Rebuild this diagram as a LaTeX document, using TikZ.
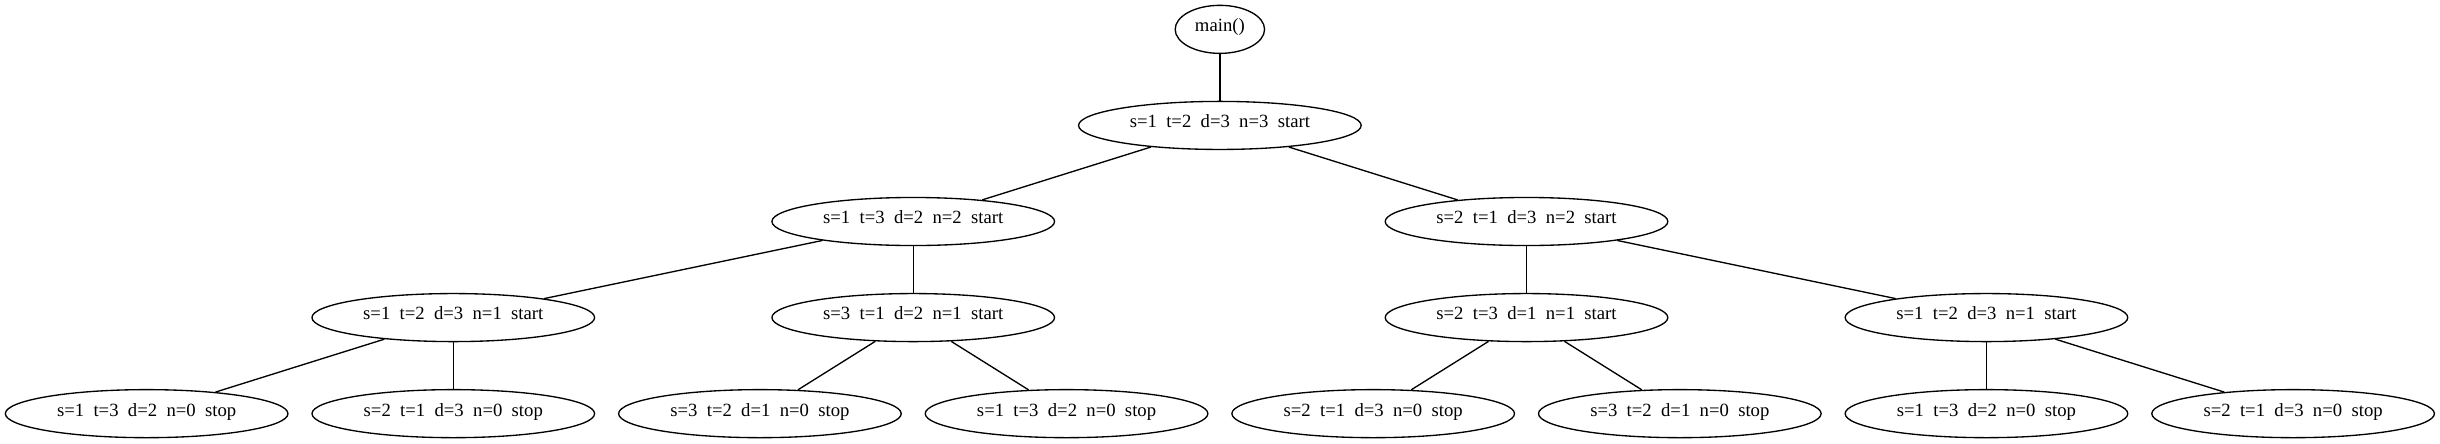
\documentclass[tikz,border=0pt]{standalone}
\usepackage{fontspec}
\setmainfont{Liberation Serif}
\usetikzlibrary{shapes.geometric}

\begin{document}
\begin{tikzpicture}[x=1bp,y=1bp,
    call/.style={draw,ellipse,line width=1bp,inner sep=0pt,minimum width=211.8bp,minimum height=36bp,
        text height=7bp,text depth=3.4bp,font=\fontsize{14bp}{16bp}\selectfont},
    link/.style={line width=1bp}]
\useasboundingbox (0,0) rectangle (1828.6,332);
% === rank heights and leaf spacing ===
\pgfmathsetmacro{\dx}{229.8}
\pgfmathsetmacro{\xzero}{109.9}
% --- root ---
\node[call,minimum width=67bp] (main) at (914.2,310) {main()};
% --- n=3 ---
\node[call] (h3) at (914.2,238) {s=1\ \ t=2\ \ d=3\ \ n=3\ \ start};
% --- n=2 ---
\node[call] (h2a) at (684.4,166) {s=1\ \ t=3\ \ d=2\ \ n=2\ \ start};
\node[call] (h2b) at (1144.0,166) {s=2\ \ t=1\ \ d=3\ \ n=2\ \ start};
% --- n=1 ---
\node[call] (h1a) at ({\xzero+\dx},94) {s=1\ \ t=2\ \ d=3\ \ n=1\ \ start};
\node[call] (h1b) at (684.4,94) {s=3\ \ t=1\ \ d=2\ \ n=1\ \ start};
\node[call] (h1c) at (1144.0,94) {s=2\ \ t=3\ \ d=1\ \ n=1\ \ start};
\node[call] (h1d) at ({\xzero+6*\dx},94) {s=1\ \ t=2\ \ d=3\ \ n=1\ \ start};
% --- n=0 ---
\node[call] (h0a) at ({\xzero},22) {s=1\ \ t=3\ \ d=2\ \ n=0\ \ stop};
\node[call] (h0b) at ({\xzero+\dx},22) {s=2\ \ t=1\ \ d=3\ \ n=0\ \ stop};
\node[call] (h0c) at ({\xzero+2*\dx},22) {s=3\ \ t=2\ \ d=1\ \ n=0\ \ stop};
\node[call] (h0d) at ({\xzero+3*\dx},22) {s=1\ \ t=3\ \ d=2\ \ n=0\ \ stop};
\node[call] (h0e) at ({\xzero+4*\dx},22) {s=2\ \ t=1\ \ d=3\ \ n=0\ \ stop};
\node[call] (h0f) at ({\xzero+5*\dx},22) {s=3\ \ t=2\ \ d=1\ \ n=0\ \ stop};
\node[call] (h0g) at ({\xzero+6*\dx},22) {s=1\ \ t=3\ \ d=2\ \ n=0\ \ stop};
\node[call] (h0h) at ({\xzero+7*\dx},22) {s=2\ \ t=1\ \ d=3\ \ n=0\ \ stop};
% === calls ===
\draw[link] (main) -- (h3);
\draw[link] (h3) -- (h2a);
\draw[link] (h3) -- (h2b);
\draw[link] (h2a) -- (h1a);
\draw[link] (h2a) -- (h1b);
\draw[link] (h2b) -- (h1c);
\draw[link] (h2b) -- (h1d);
\draw[link] (h1a) -- (h0a);
\draw[link] (h1a) -- (h0b);
\draw[link] (h1b) -- (h0c);
\draw[link] (h1b) -- (h0d);
\draw[link] (h1c) -- (h0e);
\draw[link] (h1c) -- (h0f);
\draw[link] (h1d) -- (h0g);
\draw[link] (h1d) -- (h0h);
\end{tikzpicture}
\end{document}
